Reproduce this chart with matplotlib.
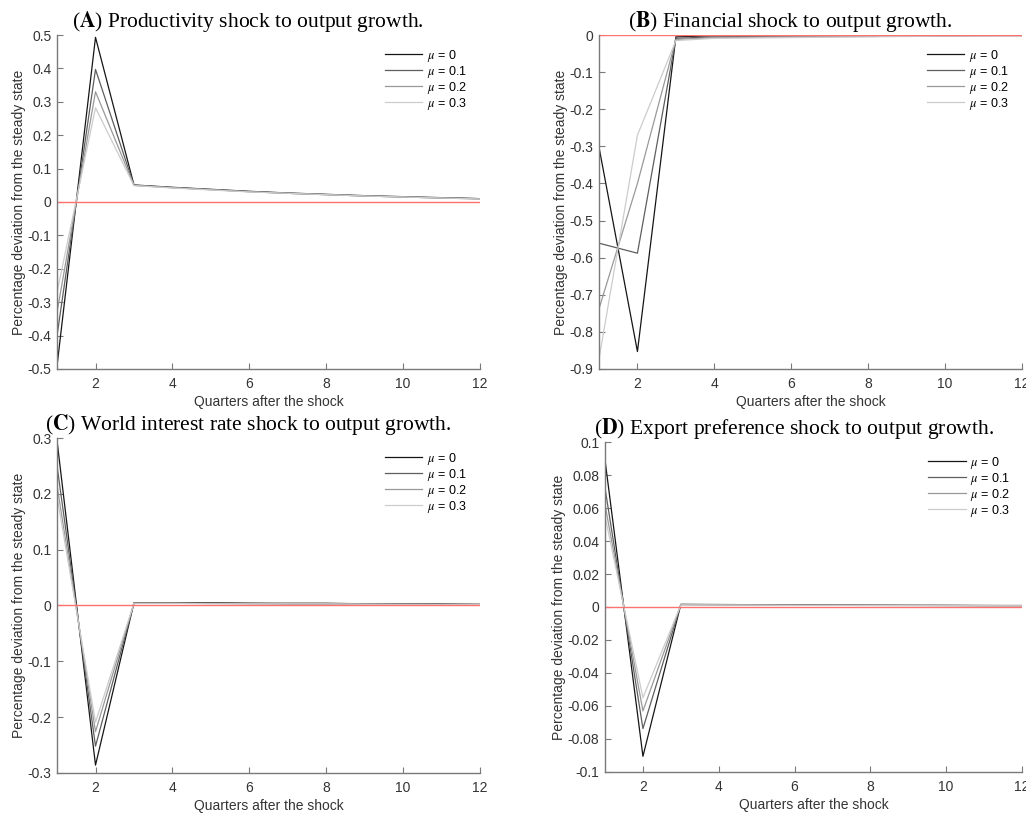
import numpy as np
import matplotlib
matplotlib.use("Agg")
import matplotlib.pyplot as plt

plt.rcParams["font.family"] = ["Liberation Sans", "DejaVu Sans"]
plt.rcParams["mathtext.fontset"] = "stix"

quarters = list(range(1, 13))
mu_labels = [r"$\mu$ = 0", r"$\mu$ = 0.1", r"$\mu$ = 0.2", r"$\mu$ = 0.3"]

# (A) productivity shock
prod_mu0 = [-0.49, 0.493, 0.051, 0.044, 0.038, 0.032, 0.027, 0.023, 0.019, 0.016, 0.013, 0.010]
prod_mu1 = [-0.40, 0.397, 0.050, 0.043, 0.037, 0.031, 0.026, 0.022, 0.018, 0.015, 0.012, 0.010]
prod_mu2 = [-0.33, 0.330, 0.050, 0.043, 0.037, 0.031, 0.026, 0.022, 0.018, 0.015, 0.012, 0.009]
prod_mu3 = [-0.27, 0.282, 0.049, 0.042, 0.036, 0.030, 0.026, 0.022, 0.018, 0.015, 0.012, 0.009]

# (B) financial shock
fin_mu0 = [-0.302, -0.853, -0.005, -0.002, -0.001, -0.001, -0.001, 0.0, 0.0, 0.0, 0.0, 0.0]
fin_mu1 = [-0.561, -0.588, -0.009, -0.005, -0.004, -0.003, -0.003, -0.002, -0.002, -0.002, -0.001, -0.001]
fin_mu2 = [-0.738, -0.400, -0.012, -0.007, -0.006, -0.005, -0.004, -0.004, -0.003, -0.003, -0.002, -0.002]
fin_mu3 = [-0.873, -0.270, -0.015, -0.009, -0.008, -0.007, -0.006, -0.005, -0.004, -0.003, -0.003, -0.002]

# (C) world interest rate shock
wir_mu0 = [0.295, -0.286, 0.005, 0.005, 0.005, 0.004, 0.004, 0.004, 0.003, 0.003, 0.003, 0.002]
wir_mu1 = [0.250, -0.252, 0.004, 0.004, 0.004, 0.004, 0.003, 0.003, 0.003, 0.003, 0.002, 0.002]
wir_mu2 = [0.215, -0.226, 0.004, 0.004, 0.004, 0.003, 0.003, 0.003, 0.003, 0.002, 0.002, 0.002]
wir_mu3 = [0.195, -0.209, 0.004, 0.004, 0.003, 0.003, 0.003, 0.003, 0.002, 0.002, 0.002, 0.002]

# (D) export preference shock
exp_mu0 = [0.089, -0.0905, 0.0016, 0.0015, 0.0014, 0.0013, 0.0012, 0.0011, 0.0010, 0.0010, 0.0009, 0.0009]
exp_mu1 = [0.072, -0.0737, 0.0015, 0.0014, 0.0013, 0.0012, 0.0011, 0.0010, 0.0010, 0.0009, 0.0009, 0.0008]
exp_mu2 = [0.062, -0.0630, 0.0014, 0.0013, 0.0012, 0.0011, 0.0010, 0.0010, 0.0009, 0.0009, 0.0008, 0.0008]
exp_mu3 = [0.055, -0.0550, 0.0013, 0.0012, 0.0011, 0.0010, 0.0010, 0.0009, 0.0009, 0.0008, 0.0008, 0.0007]

yticks_a = [-0.5, -0.4, -0.3, -0.2, -0.1, 0, 0.1, 0.2, 0.3, 0.4, 0.5]
yticks_b = [-0.9, -0.8, -0.7, -0.6, -0.5, -0.4, -0.3, -0.2, -0.1, 0]
yticks_c = [-0.3, -0.2, -0.1, 0, 0.1, 0.2, 0.3]
yticks_d = [-0.1, -0.08, -0.06, -0.04, -0.02, 0, 0.02, 0.04, 0.06, 0.08, 0.1]
xticks = [2, 4, 6, 8, 10, 12]

colors = ["#151515", "#5e5e5e", "#999999", "#cccccc"]

panels = [
    ("A", "Productivity shock to output growth.", [prod_mu0, prod_mu1, prod_mu2, prod_mu3], yticks_a,
     [0.0556, 0.5467, 0.4123, 0.4103]),
    ("B", "Financial shock to output growth.", [fin_mu0, fin_mu1, fin_mu2, fin_mu3], yticks_b,
     [0.5838, 0.5467, 0.4123, 0.4103]),
    ("C", "World interest rate shock to output growth.", [wir_mu0, wir_mu1, wir_mu2, wir_mu3], yticks_c,
     [0.0556, 0.0504, 0.4123, 0.4115]),
    ("D", "Export preference shock to output growth.", [exp_mu0, exp_mu1, exp_mu2, exp_mu3], yticks_d,
     [0.5897, 0.0516, 0.4064, 0.4054]),
]

fig = plt.figure(figsize=(10.26, 8.14), dpi=100)

for letter, title, series, yt, pos in panels:
    ax = fig.add_axes(pos)
    for s, c, lab in zip(series, colors, mu_labels):
        ax.plot(quarters, s, color=c, lw=0.9, label=lab)
    ax.axhline(0, color="#ff7070", lw=1.0)
    ax.set_xlim(1, 12)
    ax.set_ylim(yt[0], yt[-1])
    ax.set_xticks(xticks)
    ax.set_yticks(yt)
    ax.set_yticklabels([f"{v:g}" if abs(v) > 1e-12 else "0" for v in yt])
    for side in ["top", "right"]:
        ax.spines[side].set_visible(False)
    for side in ["left", "bottom"]:
        ax.spines[side].set_color("#7a7a7a")
        ax.spines[side].set_linewidth(1.0)
    ax.tick_params(direction="in", length=4, width=0.8, color="#7a7a7a",
                   labelsize=10, labelcolor="#333333", pad=4)
    ax.tick_params(axis="x", pad=6)
    ax.set_xlabel("Quarters after the shock", fontsize=10, color="#333333", labelpad=3)
    ax.set_ylabel("Percentage deviation from the steady state", fontsize=10, color="#333333", labelpad=1)
    ax.set_title(r"($\mathbf{" + letter + "}$) " + title, fontsize=15.5, family="Liberation Serif",
                 x=0.452, pad=5.5)
    ax.legend(loc="upper left", bbox_to_anchor=(0.775, 0.962), frameon=False, fontsize=9,
              handlelength=3.0, handletextpad=0.35, labelspacing=0.0, borderpad=0, borderaxespad=0)

fig.savefig("out.png", dpi=100)
